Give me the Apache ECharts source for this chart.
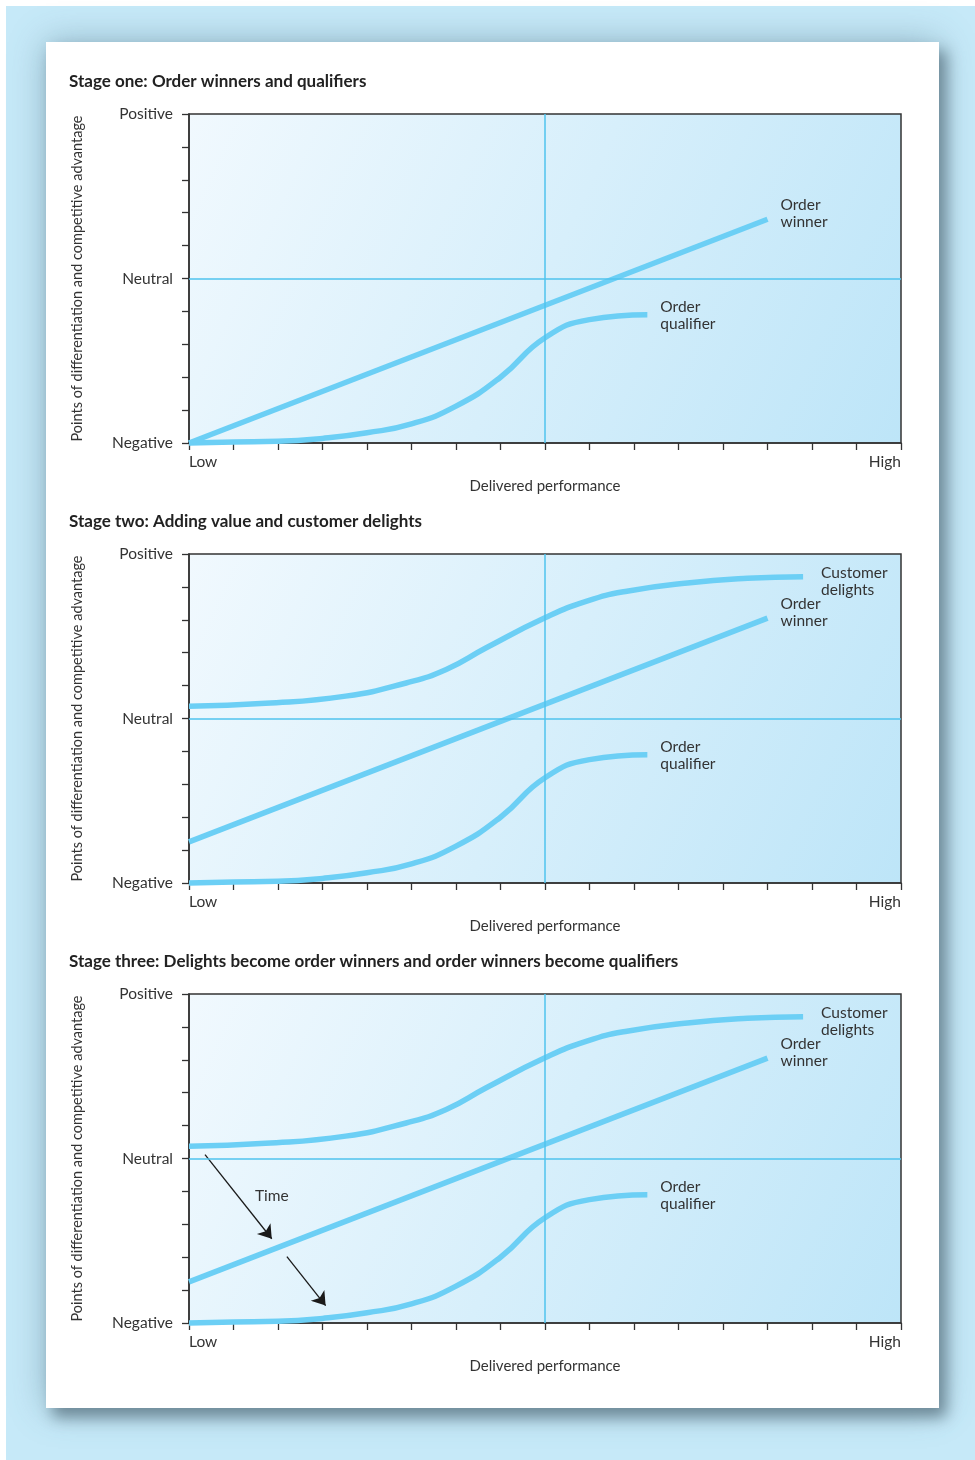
<!DOCTYPE html>
<html>
<head>
<meta charset="utf-8">
<title>Order winners, qualifiers and customer delights</title>
<script src="https://cdn.jsdelivr.net/npm/echarts@6/dist/echarts.min.js"></script>
<style>
  html, body { margin: 0; padding: 0; background: #ffffff; }
  #chart { width: 975px; height: 1460px; }
</style>
</head>
<body>
<div id="chart"></div>
<script>
// ---- data -------------------------------------------------------------
const panelTitles = [
  'Stage one: Order winners and qualifiers',
  'Stage two: Adding value and customer delights',
  'Stage three: Delights become order winners and order winners become qualifiers'
];
const yAxisTitle = 'Points of differentiation and competitive advantage';
const xAxisTitle = 'Delivered performance';
const yTickLabels = { '-5': 'Negative', '0': 'Neutral', '5': 'Positive' };
const xTickLabels = { '0': 'Low', '16': 'High' };

// Order qualifier curve (same in all three stages)
const qualifierX = [0, 1, 2, 3, 4, 5, 6, 7, 8, 9, 10.3];
const qualifierY = [-5, -4.97, -4.95, -4.86, -4.69, -4.42, -3.88, -3.0, -1.8, -1.25, -1.1];

// Order winner line, stage one and stages two/three
const winnerX = [0, 13];
const winnerY1 = [-5, 1.8];
const winnerY23 = [-3.75, 3.05];

// Customer delights curve (stages two and three)
const delightsX = [0, 1.72, 3.52, 4.88, 5.78, 6.68, 8.0, 8.94, 9.84, 11.2, 12.55, 13.8];
const delightsY = [0.37, 0.46, 0.68, 1.08, 1.49, 2.15, 3.06, 3.57, 3.87, 4.12, 4.26, 4.31];

// "Time" arrows in stage three
const timeArrows = [
  [[0.36, 0.12], [1.86, -2.44]],
  [[2.2, -2.98], [3.07, -4.47]]
];
const timeLabel = { text: 'Time', at: [1.86, -1.14] };

// ---- styles -----------------------------------------------------------
const FONT = 'Lato, "Liberation Sans", sans-serif';
const TEXT = '#333333';
const CURVE = '#6ccff5';
const REF = '#4fc3ee';
const AXIS = '#333333';
const FS = 15.5;

const gridTops = [114, 554, 994];
const GRID_LEFT = 189, GRID_W = 712, GRID_H = 329;

function zip(xs, ys) { return xs.map((x, i) => [x, ys[i]]); }

function curveSeries(idx, name, data, labelText, distance, offsetY) {
  return {
    type: 'line', name: name, xAxisIndex: idx, yAxisIndex: idx,
    data: data, smooth: 0.5, showSymbol: false, symbol: 'none',
    clip: false, silent: true, animation: false,
    lineStyle: { color: CURVE, width: 5.5, cap: 'butt' },
    endLabel: {
      show: true, formatter: labelText, distance: distance, offset: [0, offsetY],
      color: TEXT, fontFamily: FONT, fontSize: FS, lineHeight: 17, align: 'left',
      verticalAlign: 'middle', valueAnimation: false
    },
    z: 3
  };
}

const grids = [], xAxes = [], yAxes = [], titles = [], series = [];

gridTops.forEach((top, i) => {
  grids.push({
    left: GRID_LEFT, top: top, width: GRID_W, height: GRID_H,
    show: true, borderColor: AXIS, borderWidth: 1.5,
    backgroundColor: new echarts.graphic.LinearGradient(0, 0, 1, 1, [
      { offset: 0, color: '#f1f9fe' },
      { offset: 1, color: '#bde5f8' }
    ])
  });
  xAxes.push({
    type: 'value', gridIndex: i, min: 0, max: 16, interval: 1,
    name: xAxisTitle, nameLocation: 'middle', nameGap: 36,
    nameTextStyle: { color: TEXT, fontFamily: FONT, fontSize: 15 },
    axisLine: { show: true, onZero: false, lineStyle: { color: AXIS, width: 1.5 } },
    axisTick: { show: true, length: 7, lineStyle: { color: AXIS, width: 1.3 } },
    splitLine: { show: false },
    axisLabel: {
      show: true, margin: 11, color: TEXT, fontFamily: FONT, fontSize: FS,
      showMinLabel: true, showMaxLabel: true,
      alignMinLabel: 'left', alignMaxLabel: 'right',
      formatter: v => xTickLabels[String(v)] || ''
    }
  });
  yAxes.push({
    type: 'value', gridIndex: i, min: -5, max: 5, interval: 1,
    name: yAxisTitle, nameLocation: 'middle', nameGap: 104, nameRotate: 90,
    nameTextStyle: { color: TEXT, fontFamily: FONT, fontSize: 14.5 },
    axisLine: { show: true, onZero: false, lineStyle: { color: AXIS, width: 1.5 } },
    axisTick: { show: true, length: 7, lineStyle: { color: AXIS, width: 1.3 } },
    splitLine: { show: false },
    axisLabel: {
      show: true, margin: 16, color: TEXT, fontFamily: FONT, fontSize: FS,
      showMinLabel: true, showMaxLabel: true,
      formatter: v => yTickLabels[String(v)] || ''
    }
  });
  titles.push({
    text: panelTitles[i], left: 69, top: top - 41, padding: 0,
    textStyle: { color: '#222222', fontFamily: FONT, fontSize: 17, fontWeight: 'bold' }
  });

  // neutral line and mid-performance line
  series.push({
    type: 'line', xAxisIndex: i, yAxisIndex: i, data: [], silent: true, animation: false,
    markLine: {
      silent: true, symbol: 'none', animation: false,
      label: { show: false },
      lineStyle: { color: REF, width: 1.5, type: 'solid' },
      data: [{ yAxis: 0 }, { xAxis: 8 }]
    },
    z: 2
  });

  series.push(curveSeries(i, 'Order qualifier', zip(qualifierX, qualifierY),
    'Order\nqualifier', 13, 1));

  const wy = i === 0 ? winnerY1 : winnerY23;
  series.push(curveSeries(i, 'Order winner', zip(winnerX, wy),
    'Order\nwinner', 13, -6));

  if (i > 0) {
    series.push(curveSeries(i, 'Customer delights', zip(delightsX, delightsY),
      'Customer\ndelights', 18, 5));
  }
});

// time arrows and label in stage three
series.push({
  type: 'lines', coordinateSystem: 'cartesian2d', xAxisIndex: 2, yAxisIndex: 2,
  silent: true, animation: false,
  symbol: ['none', 'arrow'], symbolSize: [0, 13],
  lineStyle: { color: '#1a1a1a', width: 1.3, opacity: 1, curveness: 0 },
  data: timeArrows.map(c => ({ coords: c })),
  z: 4
});
series.push({
  type: 'scatter', xAxisIndex: 2, yAxisIndex: 2, silent: true, animation: false,
  symbolSize: 0, clip: false,
  data: [timeLabel.at],
  label: { show: true, position: 'inside', formatter: timeLabel.text,
    color: TEXT, fontFamily: FONT, fontSize: FS },
  itemStyle: { opacity: 1 },
  z: 4
});

const chart = echarts.init(document.getElementById('chart'), null, { renderer: 'canvas' });
chart.setOption({
  animation: false,
  backgroundColor: '#ffffff',
  graphic: [
    // page surround
    { type: 'rect', z: -20, silent: true,
      shape: { x: 6, y: 6, width: 975, height: 1460 },
      style: { fill: '#c6e9f8' } },
    // wide soft halo round the card
    { type: 'rect', z: -12, silent: true,
      shape: { x: 46, y: 42, width: 893, height: 1366 },
      style: { fill: '#ffffff', shadowBlur: 34, shadowColor: 'rgba(80,115,135,0.45)' } },
    // card with its tighter drop shadow
    { type: 'rect', z: -10, silent: true,
      shape: { x: 46, y: 42, width: 893, height: 1366 },
      style: { fill: '#ffffff', shadowBlur: 14, shadowOffsetX: 7, shadowOffsetY: 9,
        shadowColor: 'rgba(110,138,152,1)' } }
  ],
  title: titles,
  grid: grids,
  xAxis: xAxes,
  yAxis: yAxes,
  series: series
});
</script>
</body>
</html>
